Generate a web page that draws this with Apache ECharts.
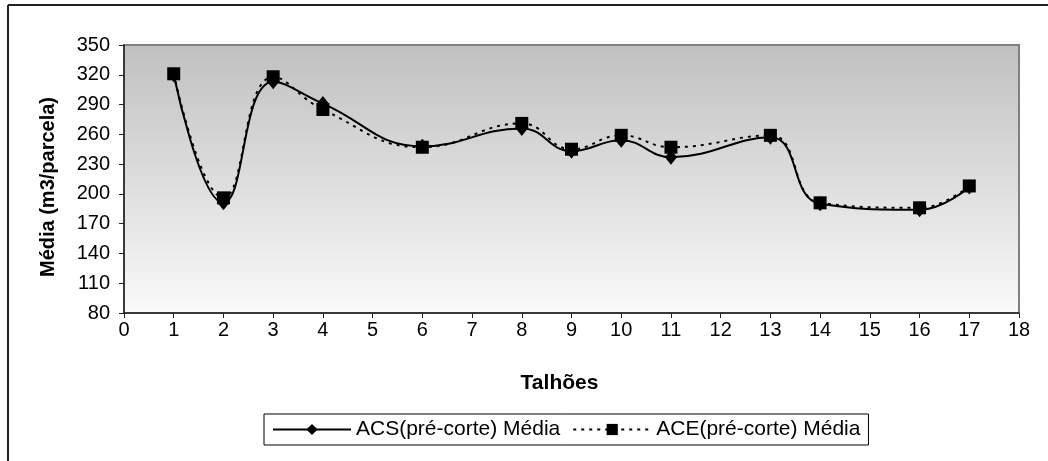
<!DOCTYPE html>
<html>
<head>
<meta charset="utf-8">
<script src="https://cdn.jsdelivr.net/npm/echarts@6/dist/echarts.min.js"></script>
<style>
  html, body { margin: 0; padding: 0; background: #fff; }
  #chart { width: 1048px; height: 461px; }
</style>
</head>
<body>
<div id="chart"></div>
<script>
// talhões (eixo x) e médias
var talhoes = [1, 2, 3, 4, 6, 8, 9, 10, 11, 13, 14, 16, 17];
var acs = [320, 191, 313, 291, 248, 266, 243, 254, 237, 257, 190, 184, 207];
var ace = [321, 196, 318, 285, 247, 271, 245, 259, 247, 259, 191, 186, 208];
var yTicks = { min: 80, max: 350, step: 30 };
var xTicks = { min: 0, max: 18, step: 1 };

var FONT = '"Liberation Sans", Arial, sans-serif';

function pares(ys) {
    return talhoes.map(function (t, i) { return [t, ys[i]]; });
}

var chart = echarts.init(document.getElementById('chart'), null, { renderer: 'canvas' });

var option = {
    animation: false,
    backgroundColor: '#fff',
    textStyle: { fontFamily: FONT, color: '#000' },
    grid: {
        left: 124, right: 29, top: 45, bottom: 148,
        show: true,
        borderColor: '#808080',
        borderWidth: 2,
        backgroundColor: {
            type: 'linear', x: 0, y: 0, x2: 0, y2: 1,
            colorStops: [
                { offset: 0, color: '#c0c0c0' },
                { offset: 1, color: '#fafafa' }
            ]
        }
    },
    xAxis: {
        type: 'value',
        min: xTicks.min, max: xTicks.max, interval: xTicks.step,
        name: 'Talhões',
        nameLocation: 'middle',
        nameGap: 60,
        nameTextStyle: { fontFamily: FONT, fontWeight: 'bold', fontSize: 21, color: '#000', padding: [0, 24, 0, 0] },
        axisLine: { onZero: false, lineStyle: { color: '#222', width: 1.5 } },
        axisTick: { show: true, length: 5, lineStyle: { color: '#222' } },
        axisLabel: { margin: 7, fontSize: 20, color: '#000', fontFamily: FONT },
        splitLine: { show: false }
    },
    yAxis: {
        type: 'value',
        min: yTicks.min, max: yTicks.max, interval: yTicks.step,
        name: 'Média (m3/parcela)',
        nameLocation: 'middle',
        nameGap: 66,
        nameTextStyle: { fontFamily: FONT, fontWeight: 'bold', fontSize: 20, color: '#000', padding: [0, 16, 0, 0] },
        axisLine: { show: true, lineStyle: { color: '#222', width: 1.5 } },
        axisTick: { show: true, length: 5, lineStyle: { color: '#222' } },
        axisLabel: { margin: 14, fontSize: 20, color: '#000', fontFamily: FONT },
        splitLine: { show: false }
    },
    legend: {
        bottom: 16,
        left: 264,
        itemWidth: 78,
        itemHeight: 14,
        itemGap: 12,
        padding: [5, 8],
        borderColor: '#000',
        borderWidth: 1,
        textStyle: { fontSize: 21, color: '#000', fontFamily: FONT },
        data: ['ACS(pré-corte) Média', 'ACE(pré-corte) Média']
    },
    series: [
        {
            name: 'ACS(pré-corte) Média',
            type: 'line',
            smooth: 0.45,
            data: pares(acs),
            symbol: 'diamond',
            symbolSize: [12, 15],
            itemStyle: { color: '#000' },
            lineStyle: { color: '#000', width: 2 },
            z: 3
        },
        {
            name: 'ACE(pré-corte) Média',
            type: 'line',
            smooth: 0.45,
            data: pares(ace),
            symbol: 'rect',
            symbolSize: 13,
            itemStyle: { color: '#000' },
            lineStyle: { color: '#000', width: 2, type: [3, 5] },
            z: 4
        }
    ],
    graphic: [
        { type: 'line', shape: { x1: 8, y1: 5, x2: 1048, y2: 5 }, style: { stroke: '#222', lineWidth: 2 } },
        { type: 'line', shape: { x1: 8, y1: 5, x2: 8, y2: 461 }, style: { stroke: '#222', lineWidth: 2 } }
    ]
};

chart.setOption(option);
</script>
</body>
</html>
